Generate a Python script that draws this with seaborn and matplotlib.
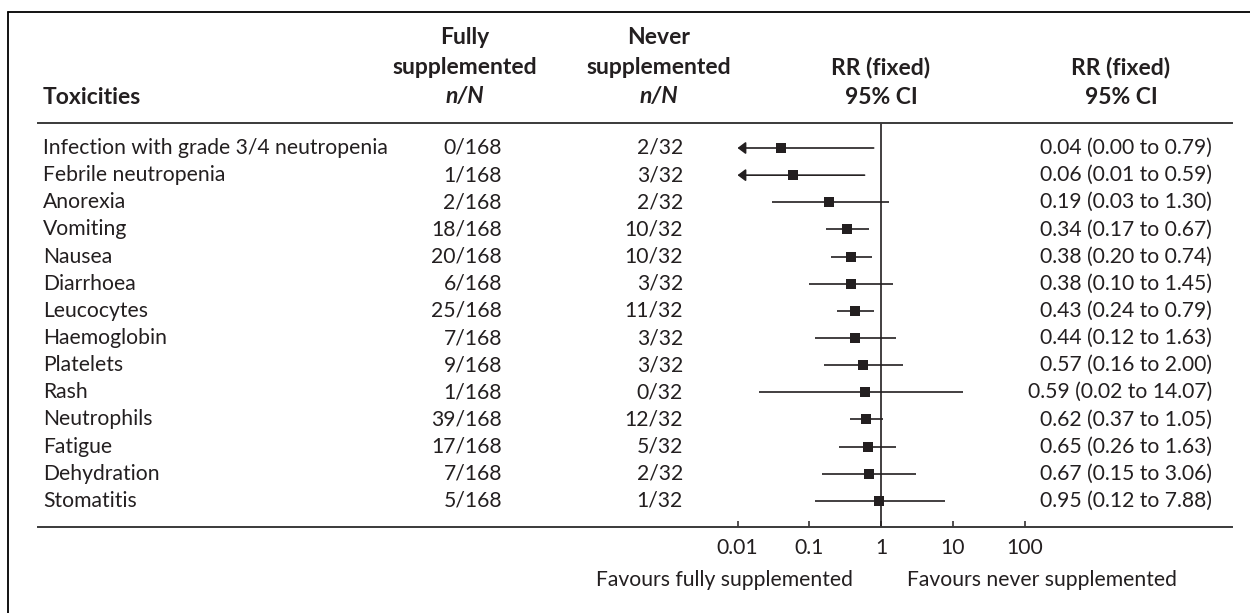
import numpy as np
import matplotlib
matplotlib.use("Agg")
import matplotlib.pyplot as plt
import matplotlib.transforms as mtransforms
from matplotlib.lines import Line2D
from matplotlib.ticker import NullLocator
import seaborn as sns

# ---------------- data ----------------
toxicities = ["Infection with grade 3/4 neutropenia", "Febrile neutropenia", "Anorexia",
              "Vomiting", "Nausea", "Diarrhoea", "Leucocytes", "Haemoglobin", "Platelets",
              "Rash", "Neutrophils", "Fatigue", "Dehydration", "Stomatitis"]
fully_nN = ["0/168", "1/168", "2/168", "18/168", "20/168", "6/168", "25/168", "7/168",
            "9/168", "1/168", "39/168", "17/168", "7/168", "5/168"]
never_nN = ["2/32", "3/32", "2/32", "10/32", "10/32", "3/32", "11/32", "3/32", "3/32",
            "0/32", "12/32", "5/32", "2/32", "1/32"]
rr = [0.04, 0.06, 0.19, 0.34, 0.38, 0.38, 0.43, 0.44, 0.57, 0.59, 0.62, 0.65, 0.67, 0.95]
ci_low = [0.00, 0.01, 0.03, 0.17, 0.20, 0.10, 0.24, 0.12, 0.16, 0.02, 0.37, 0.26, 0.15, 0.12]
ci_high = [0.79, 0.59, 1.30, 0.67, 0.74, 1.45, 0.79, 1.63, 2.00, 14.07, 1.05, 1.63, 3.06, 7.88]
tick_values = [0.01, 0.1, 1, 10, 100]
tick_labels = ["0.01", "0.1", "1", "10", "100"]
axis_min_shown = 0.01

# ---------------- style ----------------
sns.set_theme(style="white")
plt.rcParams["font.family"] = ["Lato", "DejaVu Sans"]
ink = "#231f20"
FS = 15.2
FSB = 16.5

W, H = 1250, 613
fig = plt.figure(figsize=(W / 100, H / 100), dpi=100, facecolor="white")


def fx(px):
    return px / W


def fy(py):
    return 1 - py / H


# forest axes spans the full table width between the two rules
ax_left, ax_right, ax_top, ax_bot = 38, 1232, 123, 527
one_px, decade_px = 881, 71.75
row0_px, row_step = 148, 27.15
ax = fig.add_axes([fx(ax_left), fy(ax_bot), (ax_right - ax_left) / W, (ax_bot - ax_top) / H])
ax.set_xscale("log")
ax.set_xlim(10 ** ((ax_left - one_px) / decade_px), 10 ** ((ax_right - one_px) / decade_px))
n = len(toxicities)
rows = np.arange(n)
ax.set_ylim(n - 1 + (ax_bot - (row0_px + (n - 1) * row_step)) / row_step,
            -(row0_px - ax_top) / row_step)

ax.axvline(1, color=ink, lw=1.2, zorder=1)

for i in range(n):
    if ci_low[i] <= axis_min_shown:
        ax.annotate("", xy=(axis_min_shown, i), xytext=(ci_high[i], i),
                    arrowprops=dict(arrowstyle="-|>,head_length=0.4,head_width=0.3",
                                    lw=1.2, color=ink, shrinkA=0, shrinkB=0))
    else:
        ax.hlines(i, ci_low[i], ci_high[i], color=ink, lw=1.2, zorder=2)

sns.scatterplot(x=rr, y=rows, marker="s", s=55, color=ink, edgecolor=ink,
                linewidth=0, ax=ax, legend=False, zorder=3)
ax.set_xlabel("")
ax.set_ylabel("")

for side in ["left", "right"]:
    ax.spines[side].set_visible(False)
for side in ["top", "bottom"]:
    ax.spines[side].set_visible(True)
    ax.spines[side].set_linewidth(1.4)
    ax.spines[side].set_color("#3a3a3a")
ax.set_xticks(tick_values)
ax.set_xticklabels(tick_labels)
ax.xaxis.set_minor_locator(NullLocator())
ax.tick_params(axis="x", which="major", direction="in", length=4, width=1.1, color=ink,
               labelsize=FS, pad=8, bottom=True, top=False, labelcolor=ink)
ax.set_yticks([])
ax.patch.set_alpha(0)

# ---------------- table text ----------------
tr = mtransforms.blended_transform_factory(fig.transFigure, ax.transData)
for i in range(n):
    ax.text(fx(43), i, toxicities[i], transform=tr, ha="left", va="center", fontsize=FS, color=ink)
    ax.text(fx(502), i, fully_nN[i], transform=tr, ha="right", va="center", fontsize=FS, color=ink)
    ax.text(fx(683), i, never_nN[i], transform=tr, ha="right", va="center", fontsize=FS, color=ink)
    ax.text(fx(1212), i, f"{rr[i]:.2f} ({ci_low[i]:.2f} to {ci_high[i]:.2f})", transform=tr,
            ha="right", va="center", fontsize=FS, color=ink)

hdr = dict(ha="center", va="center", fontsize=FSB, fontweight="bold", color=ink)
fig.text(fx(43), fy(97), "Toxicities", ha="left", va="center", fontsize=FSB, fontweight="bold", color=ink)
for cx, top in [(465, "Fully"), (659, "Never")]:
    fig.text(fx(cx), fy(38), top, **hdr)
    fig.text(fx(cx), fy(67), "supplemented", **hdr)
    fig.text(fx(cx), fy(97), "n/N", style="italic", **hdr)
for cx in [881, 1121]:
    fig.text(fx(cx), fy(67), "RR (fixed)", **hdr)
    fig.text(fx(cx), fy(97), "95% CI", **hdr)

fig.text(fx(853), fy(580), "Favours fully supplemented", ha="right", va="center", fontsize=FS, color=ink)
fig.text(fx(907), fy(580), "Favours never supplemented", ha="left", va="center", fontsize=FS, color=ink)

# outer frame (left and top edges)
fig.add_artist(Line2D([fx(8), fx(8)], [fy(12), 0], transform=fig.transFigure, color="black", lw=1.3))
fig.add_artist(Line2D([fx(8), 1], [fy(12), fy(12)], transform=fig.transFigure, color="black", lw=1.3))

fig.savefig("out.png", dpi=100, facecolor="white")
